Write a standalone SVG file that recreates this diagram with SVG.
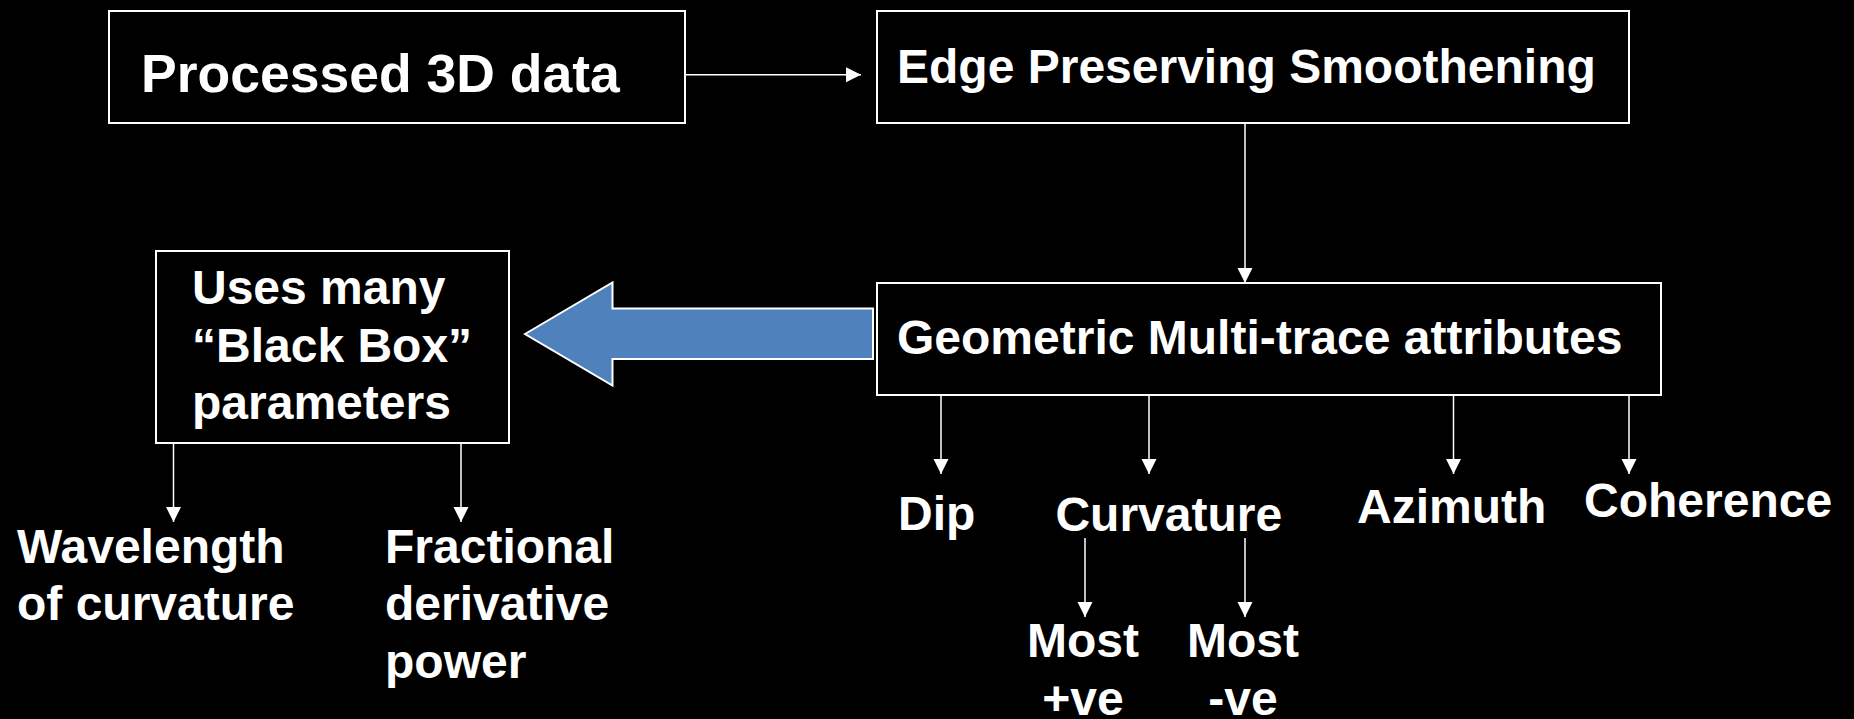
<svg xmlns="http://www.w3.org/2000/svg" width="1854" height="719" viewBox="0 0 1854 719">
  <style>
    .box { fill: #000; stroke: #fff; stroke-width: 2; }
    .lbl { font-family: "Liberation Sans", Arial, sans-serif; font-weight: bold; font-size: 48px; fill: #fff; }
    .mid { text-anchor: middle; }
    .wire { stroke: #fff; stroke-width: 1.5; fill: none; marker-end: url(#head); }
    .big { fill: #4f81bd; stroke: #fff; stroke-width: 2; stroke-linejoin: miter; }
  </style>
  <defs>
    <marker id="head" markerUnits="userSpaceOnUse" markerWidth="16" markerHeight="16" viewBox="0 0 16 16" refX="15" refY="7.5" orient="auto">
      <path d="M0,0 L15,7.5 L0,15 Z" fill="#fff"/>
    </marker>
  </defs>
  <rect width="1854" height="719" fill="#000"/>

  <!-- connectors -->
  <g id="connectors">
    <line class="wire" x1="685" y1="74.7" x2="861" y2="74.7"/>
    <line class="wire" x1="1245" y1="123" x2="1245" y2="283"/>
    <line class="wire" x1="941" y1="395" x2="941" y2="474"/>
    <line class="wire" x1="1149" y1="395" x2="1149" y2="474"/>
    <line class="wire" x1="1453.5" y1="395" x2="1453.5" y2="474"/>
    <line class="wire" x1="1629" y1="395" x2="1629" y2="474"/>
    <line class="wire" x1="1085" y1="538" x2="1085" y2="617"/>
    <line class="wire" x1="1245" y1="538" x2="1245" y2="617"/>
    <line class="wire" x1="173.5" y1="443" x2="173.5" y2="522"/>
    <line class="wire" x1="461" y1="443" x2="461" y2="522"/>
    <!-- broad block arrow pointing from the attributes box to the parameters box -->
    <polygon class="big" points="525,334 612.5,282.5 612.5,308.5 873,308.5 873,359 612.5,359 612.5,385.5"/>
  </g>

  <g id="processed-data">
    <rect class="box" x="109" y="11" width="576" height="112"/>
    <text class="lbl" x="141" y="91.7" style="font-size:53.5px">Processed 3D data</text>
  </g>

  <g id="smoothening">
    <rect class="box" x="877" y="11" width="752" height="112"/>
    <text class="lbl" x="897" y="82.7">Edge Preserving Smoothening</text>
  </g>

  <g id="multitrace">
    <rect class="box" x="877" y="283" width="784" height="112"/>
    <text class="lbl" x="897" y="354.3">Geometric Multi-trace attributes</text>
  </g>

  <g id="black-box">
    <rect class="box" x="156" y="251" width="353" height="192"/>
    <text class="lbl" x="192" y="304">Uses many</text>
    <text class="lbl" x="192" y="361.7">“Black Box”</text>
    <text class="lbl" x="192" y="419.3">parameters</text>
  </g>

  <g id="wavelength">
    <text class="lbl" x="17" y="562.7">Wavelength</text>
    <text class="lbl" x="17" y="620.3">of curvature</text>
  </g>

  <g id="fractional">
    <text class="lbl" x="385" y="562.7">Fractional</text>
    <text class="lbl" x="385" y="620.3">derivative</text>
    <text class="lbl" x="385" y="677.9">power</text>
  </g>

  <g id="dip">
    <text class="lbl" x="898" y="530">Dip</text>
  </g>

  <g id="curvature">
    <text class="lbl" x="1055.4" y="530.7">Curvature</text>
  </g>

  <g id="azimuth">
    <text class="lbl" x="1357" y="522.7">Azimuth</text>
  </g>

  <g id="coherence">
    <text class="lbl" x="1584" y="517.3">Coherence</text>
  </g>

  <g id="most-positive">
    <text class="lbl mid" x="1083" y="657.3">Most</text>
    <text class="lbl mid" x="1083" y="715">+ve</text>
  </g>

  <g id="most-negative">
    <text class="lbl mid" x="1243" y="657.3">Most</text>
    <text class="lbl mid" x="1243" y="715">-ve</text>
  </g>
</svg>
